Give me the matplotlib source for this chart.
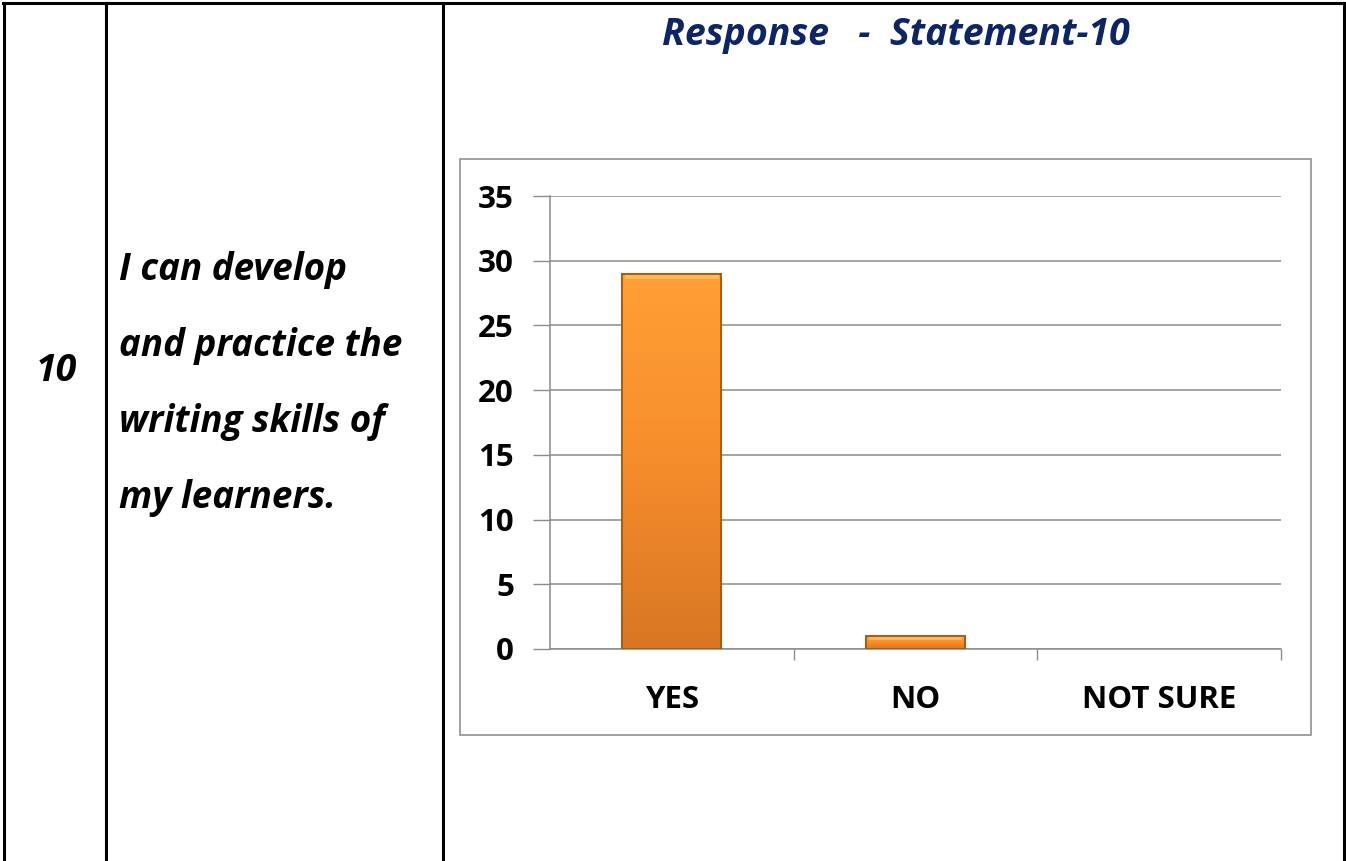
import numpy as np
import matplotlib.pyplot as plt
from matplotlib.patches import Rectangle
from matplotlib.lines import Line2D
from matplotlib.colors import LinearSegmentedColormap

# survey data
categories = ['YES', 'NO', 'NOT SURE']
responses = [29, 1, 0]
y_ticks = [0, 5, 10, 15, 20, 25, 30, 35]

statement_no = '10'
statement_lines = ['I can develop', 'and practice the', 'writing skills of', 'my learners.']
chart_title = 'Response   -  Statement-10'

W, H = 1346, 861
plt.rcParams['font.family'] = ['Open Sans', 'DejaVu Sans']

fig = plt.figure(figsize=(W / 100, H / 100), dpi=100)
fig.patch.set_facecolor('white')

def fx(px):
    return px / W

def fy(py):
    return 1 - py / H

# table grid
for x in [4, 106, 443, 1344]:
    fig.add_artist(Line2D([fx(x), fx(x)], [fy(3), fy(H + 5)], color='black', lw=2.2))
fig.add_artist(Line2D([fx(3), fx(1345)], [fy(3), fy(3)], color='black', lw=2.2))

# first two columns
fig.text(fx(56), fy(371), statement_no, fontsize=27, fontweight='bold', fontstyle='italic',
         ha='center', va='center')
for i, line in enumerate(statement_lines):
    fig.text(fx(119), fy(270 + 76 * i), line, fontsize=26.5, fontweight='bold',
             fontstyle='italic', ha='left', va='center')

# chart title
fig.text(fx(896), fy(35), chart_title, fontsize=27, fontweight='bold', fontstyle='italic',
         color='#0d2566', ha='center', va='center')

# chart frame
fig.add_artist(Rectangle((fx(460), fy(735)), fx(1311 - 460), (735 - 159) / H,
                         fill=False, edgecolor='#9a9a9a', lw=1.3))

ax = fig.add_axes([fx(550), fy(649), fx(1281 - 550), (649 - 196) / H])
ax.set_xlim(-0.5, len(categories) - 0.5)
ax.set_ylim(0, 35)
ax.set_facecolor('none')

x = np.arange(len(categories))
ax.set_yticks(y_ticks)
ax.set_yticklabels([str(t) for t in y_ticks], fontsize=22.5, fontweight='bold')
ax.yaxis.grid(True, color='#8c8c8c', lw=1.1)
ax.set_axisbelow(True)
ax.tick_params(axis='y', length=12, width=1.0, color='#8c8c8c', pad=14)

ax.set_xticks(x)
ax.set_xticklabels(categories, fontsize=22.5, fontweight='bold')
ax.tick_params(axis='x', length=0, pad=26)
ax.set_xticks([0.5, 1.5, 2.5], minor=True)
ax.tick_params(axis='x', which='minor', length=8, width=1.0, color='#8c8c8c')

for s in ['top', 'right']:
    ax.spines[s].set_visible(False)
ax.spines['left'].set_color('#8c8c8c')
ax.spines['bottom'].set_color('#8c8c8c')
ax.spines['left'].set_linewidth(1.1)
ax.spines['bottom'].set_linewidth(1.1)

# orange bars with vertical gradient and a darker rim
cmap = LinearSegmentedColormap.from_list('orange', ['#d87624', '#f68d2c', '#ffa035'])
grad = np.linspace(0, 1, 256).reshape(-1, 1)
bars = ax.bar(x, responses, width=0.405, color='#f28a2a',
              linewidth=[1.2 if v > 0 else 0 for v in responses],
              edgecolor='#b85f15', zorder=3)
for b, v in zip(bars, responses):
    if v <= 0:
        continue
    x0, w = b.get_x(), b.get_width()
    im = ax.imshow(grad, extent=[x0, x0 + w, 0, v], origin='lower', cmap=cmap,
                   aspect='auto', zorder=3.5)
    im.set_clip_path(b)
    # bevel highlight along the top
    bev = min(0.45, v * 0.3)
    ax.add_patch(Rectangle((x0 + 0.01, v - bev), w - 0.02, bev, facecolor='#ffc060',
                           edgecolor='none', alpha=0.8, zorder=4))
    ax.add_patch(Rectangle((x0, 0), w, v, fill=False, edgecolor='#a9560f', lw=1.3, zorder=5))

ax.set_xlim(-0.5, len(categories) - 0.5)
ax.set_ylim(0, 35)

fig.savefig('out.png', dpi=100, facecolor='white')
